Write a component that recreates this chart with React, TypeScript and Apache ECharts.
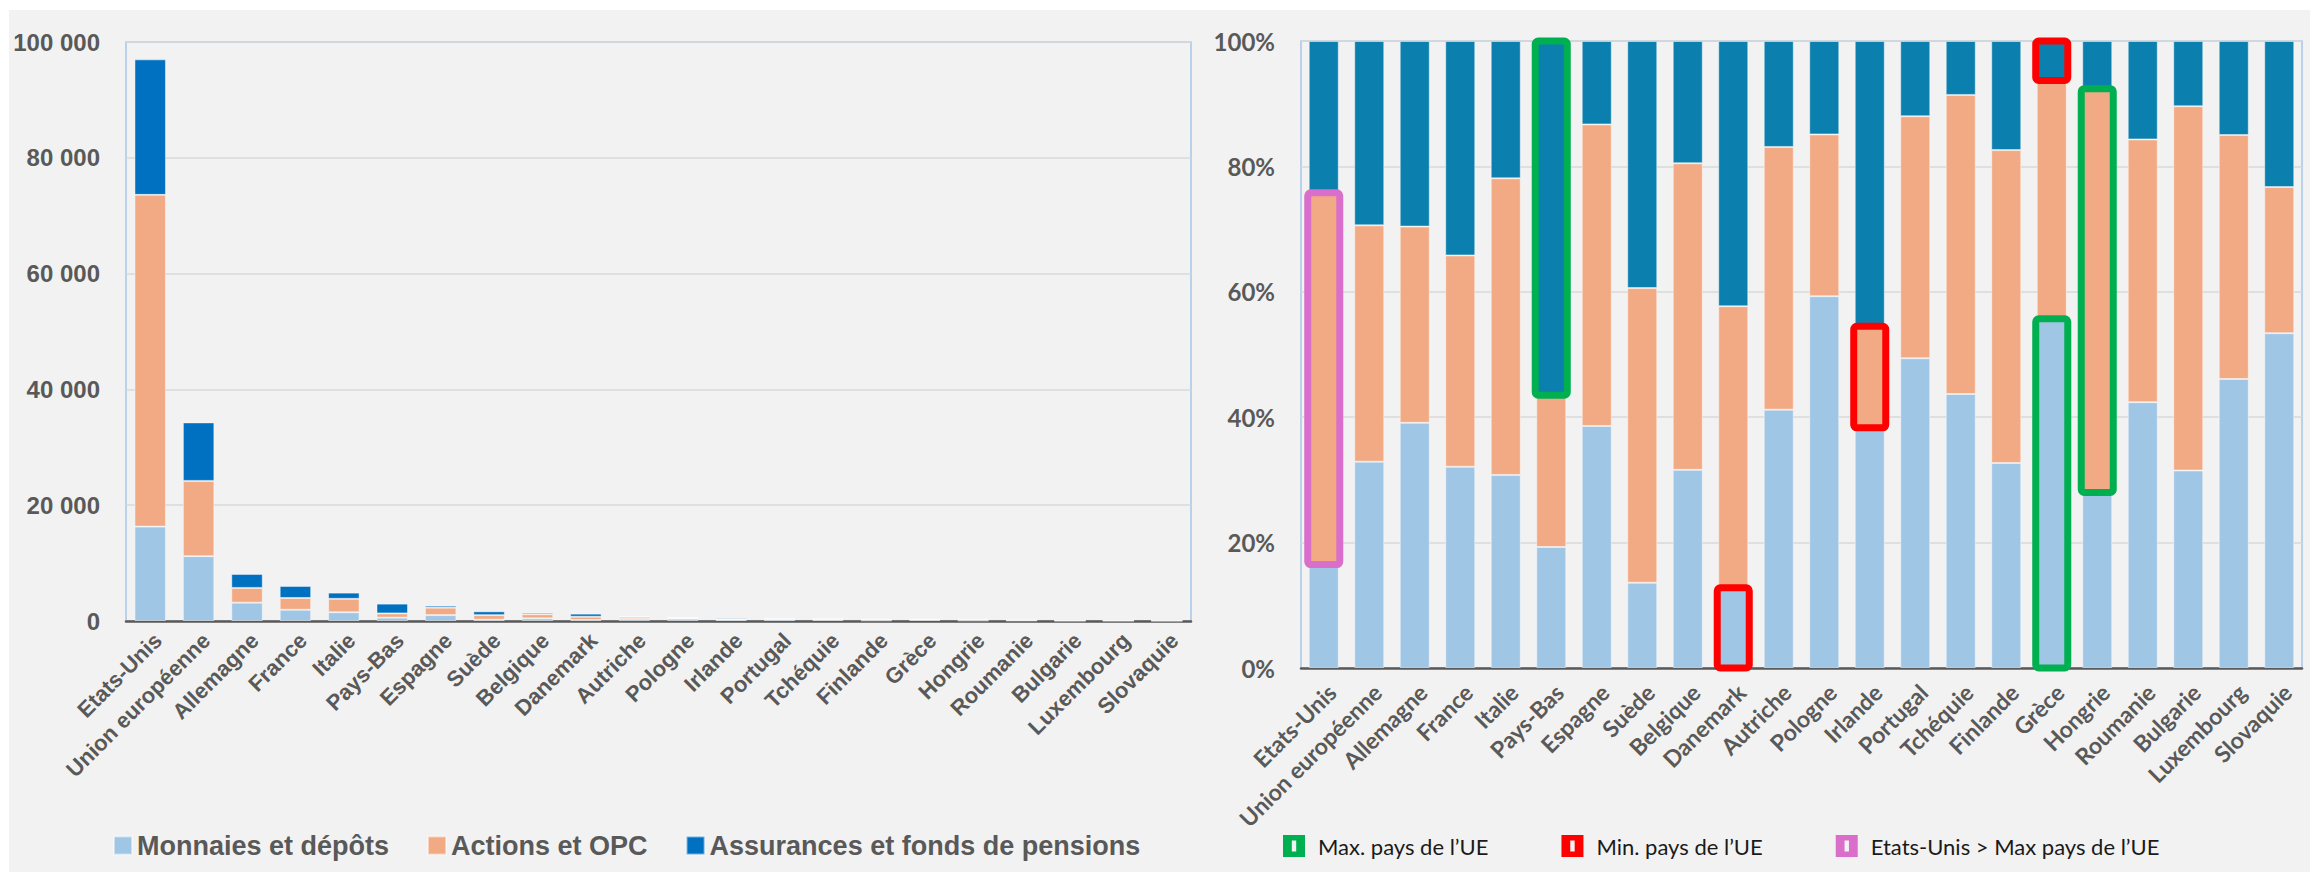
import React, { useEffect, useRef } from 'react';
import * as echarts from 'echarts';

const categories = [
  'Etats-Unis', 'Union européenne', 'Allemagne', 'France', 'Italie', 'Pays-Bas', 'Espagne', 'Suède',
  'Belgique', 'Danemark', 'Autriche', 'Pologne', 'Irlande', 'Portugal', 'Tchéquie', 'Finlande',
  'Grèce', 'Hongrie', 'Roumanie', 'Bulgarie', 'Luxembourg', 'Slovaquie',
];

// Left chart: amounts
const monnaies = [16300, 11200, 3170, 1940, 1510, 580, 1020, 227, 458, 163, 354, 385, 192, 237, 175, 111, 178, 84, 76, 31, 41, 43];
const actions = [57300, 13000, 2550, 2040, 2320, 725, 1280, 785, 709, 570, 360, 168, 81, 185, 191, 170, 122, 193, 76, 58, 35, 18];
const assurances = [23400, 10100, 2410, 2070, 1070, 1695, 350, 658, 283, 537, 146, 97, 227, 58, 34, 59, 20, 23, 28, 11, 14, 19];

// Right chart: shares (%)
const pctMonnaies = [16.5, 32.9, 39.1, 32.1, 30.8, 19.3, 38.6, 13.6, 31.6, 12.8, 41.2, 59.3, 38.3, 49.4, 43.7, 32.7, 55.7, 28.0, 42.4, 31.5, 46.1, 53.4];
const pctActions = [59.3, 37.7, 31.3, 33.7, 47.3, 24.2, 48.1, 47.0, 48.9, 44.9, 41.9, 25.8, 16.2, 38.6, 47.7, 49.9, 38.0, 64.4, 41.9, 58.1, 38.9, 23.3];
const pctAssurances = [24.2, 29.4, 29.6, 34.2, 21.9, 56.5, 13.3, 39.4, 19.5, 42.3, 16.9, 14.9, 45.5, 12.0, 8.6, 17.4, 6.3, 7.6, 15.7, 10.4, 15.0, 23.3];

const seriesNames = ['Monnaies et dépôts', 'Actions et OPC', 'Assurances et fonds de pensions'];
const highlightNames = ['Max. pays de l’UE', 'Min. pays de l’UE', 'Etats-Unis > Max pays de l’UE'];

// highlighted segments: [country, segment index (0 monnaies, 1 actions, 2 assurances)]
const maxUE: [string, number][] = [['Pays-Bas', 2], ['Grèce', 0], ['Hongrie', 1]];
const minUE: [string, number][] = [['Danemark', 0], ['Irlande', 1], ['Grèce', 2]];
const usAboveMax: [string, number][] = [['Etats-Unis', 1]];

const C_MON = '#A0C6E6';
const C_ACT = '#F2AA84';
const C_ASS_L = '#0070C0';
const C_ASS_R = '#0B80AF';
const C_GREEN = '#00B050';
const C_RED = '#FF0000';
const C_PINK = '#DA6FCB';

const FONT_L = "'Liberation Sans', Arial, sans-serif";
const FONT_R = "Lato, 'Open Sans', sans-serif";
const GREY = '#595959';

function segRange([name, seg]: [string, number]) {
  const i = categories.indexOf(name);
  const shares = [pctMonnaies[i], pctActions[i], pctAssurances[i]];
  let start = 0;
  for (let k = 0; k < seg; k++) start += shares[k];
  return [i, start, start + shares[seg]];
}

function boxSeries(name: string, color: string, items: [string, number][]) {
  return {
    type: 'custom',
    name,
    xAxisIndex: 1,
    yAxisIndex: 1,
    z: 10,
    itemStyle: { color },
    encode: { x: 0, y: [1, 2] },
    data: items.map(segRange),
    renderItem: (params: any, api: any) => {
      const cat = api.value(0);
      const p0 = api.coord([cat, api.value(1)]);
      const p1 = api.coord([cat, api.value(2)]);
      const bw = api.size([1, 0])[0] * 0.66 + 2;
      return {
        type: 'rect',
        shape: { x: p0[0] - bw / 2, y: p1[1], width: bw, height: p0[1] - p1[1], r: 3 },
        style: { fill: 'none', stroke: color, lineWidth: 7 },
      };
    },
  };
}

export default function App() {
  const ref = useRef<HTMLDivElement>(null);
  useEffect(() => {
    if (!ref.current) return;
    const chart = echarts.init(ref.current, undefined, { renderer: 'svg' });
    const thousands = (v: number) => String(v).replace(/\B(?=(\d{3})+(?!\d))/g, ' ');
    const barBorder = { borderColor: 'rgba(255,255,255,0.45)', borderWidth: 1 };
    chart.setOption({
      animation: false,
      backgroundColor: 'transparent',
      grid: [
        { left: 126, top: 42, width: 1065, height: 579, show: true, borderColor: '#A6C8E8', borderWidth: 1.5, backgroundColor: 'transparent' },
        { left: 1301, top: 41, width: 1001, height: 627, show: true, borderColor: '#A6C8E8', borderWidth: 1.5, backgroundColor: 'transparent' },
      ],
      xAxis: [
        {
          type: 'category', gridIndex: 0, data: categories,
          axisLine: { lineStyle: { color: GREY, width: 2.5 } },
          axisTick: { show: false },
          axisLabel: { interval: 0, rotate: 45, margin: 8, verticalAlign: 'top', color: GREY, fontFamily: FONT_L, fontWeight: 'bold', fontSize: 22 },
        },
        {
          type: 'category', gridIndex: 1, data: categories,
          axisLine: { lineStyle: { color: GREY, width: 2.5 } },
          axisTick: { show: false },
          axisLabel: { interval: 0, rotate: 45, margin: 12, verticalAlign: 'top', color: GREY, fontFamily: FONT_R, fontWeight: 'bold', fontSize: 23 },
        },
      ],
      yAxis: [
        {
          type: 'value', gridIndex: 0, min: 0, max: 100000, interval: 20000,
          axisLine: { show: false }, axisTick: { show: false },
          splitLine: { lineStyle: { color: '#D9D9D9', width: 1.5 } },
          axisLabel: { margin: 26, color: GREY, fontFamily: FONT_L, fontWeight: 'bold', fontSize: 24, formatter: thousands },
        },
        {
          type: 'value', gridIndex: 1, min: 0, max: 100, interval: 20,
          axisLine: { show: false }, axisTick: { show: false },
          splitLine: { lineStyle: { color: '#D9D9D9', width: 1.5 } },
          axisLabel: { margin: 26, color: GREY, fontFamily: FONT_R, fontWeight: 'bold', fontSize: 24, formatter: '{value}%' },
        },
      ],
      legend: [
        {
          left: 113, top: 832, padding: 0, itemWidth: 18, itemHeight: 18, itemGap: 38, icon: 'rect',
          data: seriesNames,
          textStyle: { color: GREY, fontFamily: FONT_L, fontWeight: 'bold', fontSize: 27 },
        },
        {
          left: 1283, top: 835, padding: 0, itemWidth: 22, itemHeight: 22, itemGap: 73,
          icon: 'path://M0,0H10V10H0Z M4,2.5V7.5H6V2.5Z',
          data: highlightNames,
          textStyle: { color: '#1a1a1a', fontFamily: FONT_R, fontSize: 22, padding: [0, 0, 0, 8] },
        },
      ],
      series: [
        { type: 'bar', name: seriesNames[0], stack: 'L', xAxisIndex: 0, yAxisIndex: 0, barCategoryGap: '35%', itemStyle: { color: C_MON, ...barBorder }, data: monnaies },
        { type: 'bar', name: seriesNames[1], stack: 'L', xAxisIndex: 0, yAxisIndex: 0, itemStyle: { color: C_ACT, ...barBorder }, data: actions },
        { type: 'bar', name: seriesNames[2], stack: 'L', xAxisIndex: 0, yAxisIndex: 0, itemStyle: { color: C_ASS_L, ...barBorder }, data: assurances },
        { type: 'bar', name: seriesNames[0] + ' (%)', stack: 'R', xAxisIndex: 1, yAxisIndex: 1, barCategoryGap: '34%', itemStyle: { color: C_MON, ...barBorder }, data: pctMonnaies },
        { type: 'bar', name: seriesNames[1] + ' (%)', stack: 'R', xAxisIndex: 1, yAxisIndex: 1, itemStyle: { color: C_ACT, ...barBorder }, data: pctActions },
        { type: 'bar', name: seriesNames[2] + ' (%)', stack: 'R', xAxisIndex: 1, yAxisIndex: 1, itemStyle: { color: C_ASS_R, ...barBorder }, data: pctAssurances },
        boxSeries(highlightNames[0], C_GREEN, maxUE),
        boxSeries(highlightNames[1], C_RED, minUE),
        boxSeries(highlightNames[2], C_PINK, usAboveMax),
      ],
    });
    return () => chart.dispose();
  }, []);

  return (
    <div style={{ position: 'absolute', left: 0, top: 0, width: 2317, height: 878, background: '#ffffff', overflow: 'hidden' }}>
      <div style={{ position: 'absolute', left: 9, top: 10, width: 2301, height: 862, background: '#F2F2F2' }} />
      <div ref={ref} style={{ position: 'absolute', left: 0, top: 0, width: 2317, height: 878 }} />
    </div>
  );
}
